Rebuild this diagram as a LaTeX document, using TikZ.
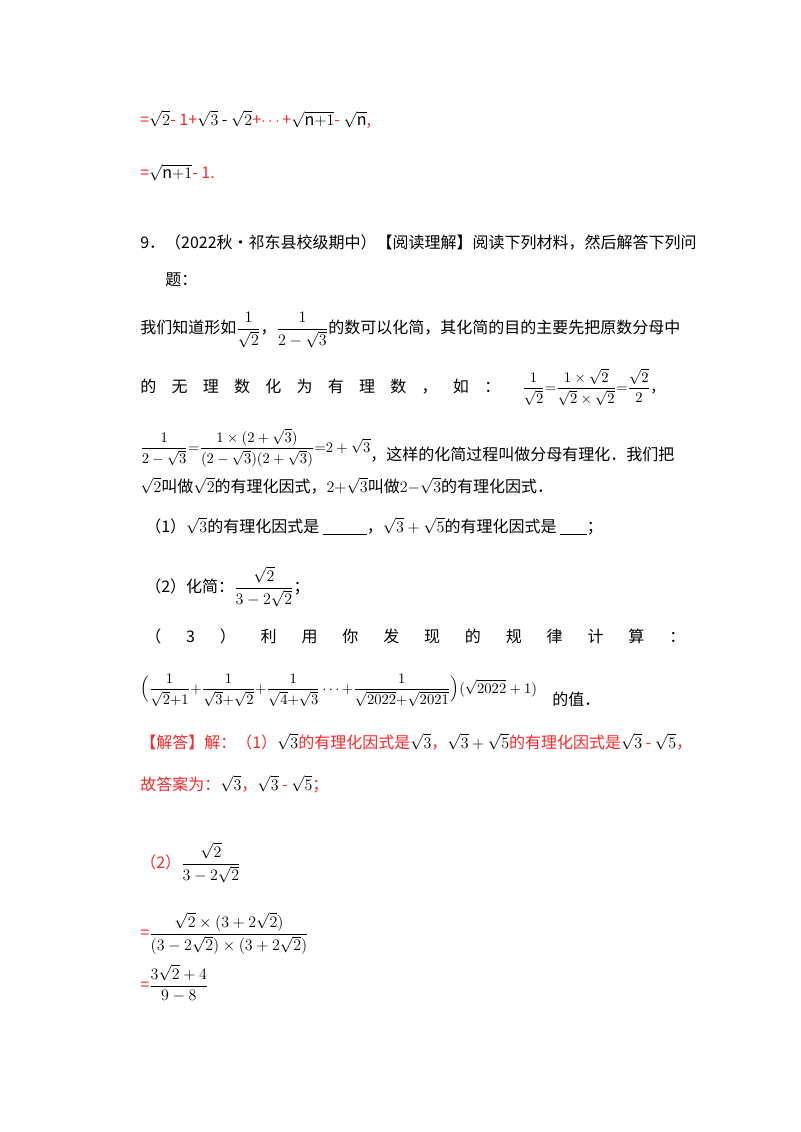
\documentclass[tikz,border=0pt]{standalone}
\usepackage{amsmath}
\usepackage{fontspec}
\setmainfont{Noto Sans CJK SC}
\definecolor{ans}{RGB}{250,40,40}
\begin{document}
\begin{tikzpicture}[x=0.75pt,y=-0.75pt,
  t/.style={anchor=base west,inner sep=0pt,font=\fontsize{12}{14}\selectfont},
  m/.style={anchor=base west,inner sep=0pt,font=\fontsize{11}{13}\selectfont},
  r/.style={t,text=ans}]
\useasboundingbox[fill=white] (0,0) rectangle (800,1132);
\node[t] (l1) at (140,125) {\textcolor{ans}{=}$\sqrt{2}$\textcolor{ans}{ - 1+}$\sqrt{3}$ - $\sqrt{2}$\textcolor{ans}{+$\cdots$+}$\sqrt{\mathrm{n}{+}1}$\textcolor{ans}{ - }$\sqrt{\mathrm{n}}$\textcolor{ans}{,}};
\node[t] (l2) at (140,178) {\textcolor{ans}{=}$\sqrt{\mathrm{n}{+}1}$\textcolor{ans}{ - 1.}};
\node[t] (l3) at (140,248) {9．（2022秋•祁东县校级期中）【阅读理解】阅读下列材料，然后解答下列问};
\node[t] (l4) at (165,285) {题：};
\node[t] (l5) at (140,333) {我们知道形如$\dfrac{1}{\sqrt{2}}$，$\dfrac{1}{2-\sqrt{3}}$的数可以化简，其化简的目的主要先把原数分母中};
\node[t] (l6) at (140,392) {\makebox[270pt]{的\hfill 无\hfill 理\hfill 数\hfill 化\hfill 为\hfill 有\hfill 理\hfill 数\hfill ，\hfill 如\hfill ：}};
\node[m] (l6b) at (522,392) {$\dfrac{1}{\sqrt{2}}{=}\dfrac{1\times\sqrt{2}}{\sqrt{2}\times\sqrt{2}}{=}\dfrac{\sqrt{2}}{2}$，};
\node[m] (l7) at (140,452) {$\dfrac{1}{2-\sqrt{3}}{=}\dfrac{1\times(2+\sqrt{3})}{(2-\sqrt{3})(2+\sqrt{3})}{=}2+\sqrt{3}$};
\node[t] (l7b) at (370,460) {，这样的化简过程叫做分母有理化．我们把};
\node[t] (l8) at (140,492) {$\sqrt{2}$叫做$\sqrt{2}$的有理化因式，$2{+}\sqrt{3}$叫做$2{-}\sqrt{3}$的有理化因式．};
\node[t] (l9) at (145,532) {（1）$\sqrt{3}$的有理化因式是 \underline{\hspace{33pt}}，$\sqrt{3}+\sqrt{5}$的有理化因式是 \underline{\hspace{20pt}}；};
\node[t] (l10) at (145,592) {（2）化简：$\dfrac{\sqrt{2}}{3-2\sqrt{2}}$；};
\node[t] (l11) at (145,642) {\makebox[405pt]{（\hfill 3\hfill ）\hfill 利\hfill 用\hfill 你\hfill 发\hfill 现\hfill 的\hfill 规\hfill 律\hfill 计\hfill 算\hfill ：}};
\node[m] (l12) at (140,693) {$\Bigl(\dfrac{1}{\sqrt{2}{+}1}{+}\dfrac{1}{\sqrt{3}{+}\sqrt{2}}{+}\dfrac{1}{\sqrt{4}{+}\sqrt{3}}\cdots{+}\dfrac{1}{\sqrt{2022}{+}\sqrt{2021}}\Bigr)(\sqrt{2022}+1)$};
\node[t] (l12b) at (552,705) {的值．};
\node[r] (l13) at (140,748) {【解答】解：（1）\textcolor{black}{$\sqrt{3}$}的有理化因式是\textcolor{black}{$\sqrt{3}$}，\textcolor{black}{$\sqrt{3}+\sqrt{5}$}的有理化因式是\textcolor{black}{$\sqrt{3}$} - \textcolor{black}{$\sqrt{5}$}，};
\node[r] (l14) at (140,790) {故答案为：\textcolor{black}{$\sqrt{3}$}，\textcolor{black}{$\sqrt{3}$} - \textcolor{black}{$\sqrt{5}$}；};
\node[r] (l15) at (140,868) {（2）\textcolor{black}{$\dfrac{\sqrt{2}}{3-2\sqrt{2}}$}};
\node[r] (l16) at (140,938) {=\textcolor{black}{$\dfrac{\sqrt{2}\times(3+2\sqrt{2})}{(3-2\sqrt{2})\times(3+2\sqrt{2})}$}};
\node[r] (l17) at (140,990) {=\textcolor{black}{$\dfrac{3\sqrt{2}+4}{9-8}$}};
\end{tikzpicture}
\end{document}
